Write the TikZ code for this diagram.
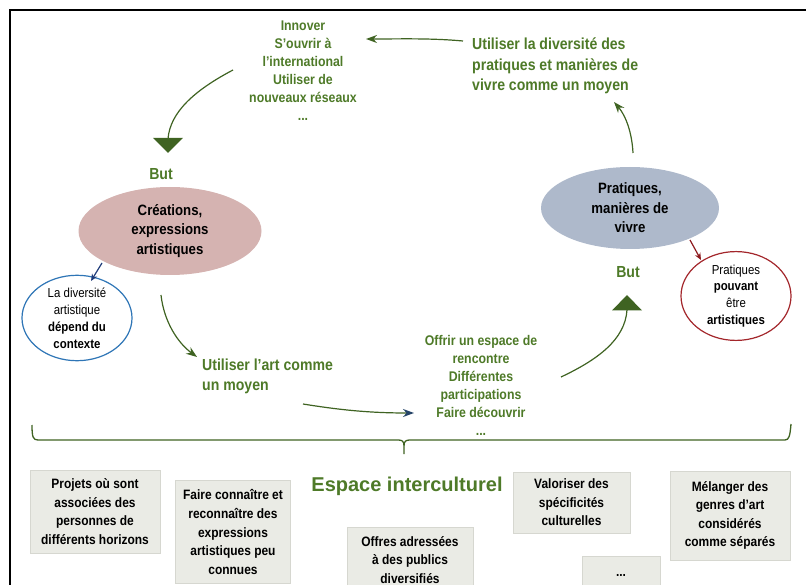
\documentclass[tikz,border=0pt]{standalone}
\usepackage{fontspec}
\setmainfont{Liberation Sans}[FakeStretch=0.88]
\newfontfamily\titlefont{Liberation Sans}
\usetikzlibrary{shapes.geometric,arrows.meta}
\definecolor{tgreen}{HTML}{4E7A28}
\definecolor{agreen}{HTML}{3F6322}
\definecolor{rosefill}{HTML}{D5B3B1}
\definecolor{bluefill}{HTML}{AEB9CB}
\definecolor{bblue}{HTML}{2E75B6}
\definecolor{bred}{HTML}{A3262B}
\definecolor{dblue}{HTML}{1F3C7A}
\definecolor{dred}{HTML}{8E1B1F}
\definecolor{boxfill}{HTML}{EAEBE5}
\definecolor{boxdraw}{HTML}{D6D7D0}
\newcommand\myfs[2]{\fontsize{#1}{#2}\selectfont}
\begin{document}
\begin{tikzpicture}[x=1pt,y=-1pt,
  gtext/.style={text=tgreen,font=\bfseries\myfs{14}{18.1},align=center,inner sep=0pt},
  gbig/.style={text=tgreen,font=\bfseries\myfs{16}{20.5},align=left,inner sep=0pt},
  gbut/.style={text=tgreen,font=\bfseries\myfs{16}{18},inner sep=0pt},
  bigell/.style={ellipse,inner sep=0pt,align=center,font=\bfseries\myfs{15}{19.5}},
  smallell/.style={ellipse,inner sep=0pt,align=center,line width=1.2pt,fill=white,font=\myfs{13}{16.9}},
  gbox/.style={rectangle,fill=boxfill,draw=boxdraw,line width=0.8pt,inner sep=0pt,align=center,font=\bfseries\myfs{13.6}{18.6}},
  garrow/.style={agreen,line width=1.2pt,-{Stealth[length=11pt,width=8pt]}},
  gline/.style={agreen,line width=1.2pt},
]
\useasboundingbox (0,0) rectangle (806,585);
\draw[line width=2pt] (10,600) -- (10,10) -- (820,10);

% text blocks
\node[gtext,anchor=north] (innov) at (303,20.5) {Innover\\S’ouvrir à\\l’international\\Utiliser de\\nouveaux réseaux\\...};
\node[gbig,anchor=north west] (utildiv) at (472,38) {Utiliser la diversité des\\pratiques et manières de\\vivre comme un moyen};
\node[gbut] (but1) at (161,174) {But};
\node[bigell,fill=rosefill,minimum width=183pt,minimum height=88pt] (creat) at (170,231) {Créations,\\expressions\\artistiques};
\node[smallell,draw=bblue,minimum width=110pt,minimum height=71pt] (diva) at (77,318) {La diversité\\artistique\\\textbf{dépend du}\\\textbf{contexte}};
\node[gbig,anchor=north west] (utilart) at (202,358.5) {Utiliser l’art comme\\un moyen};
\node[gtext,anchor=north] (offrir) at (481,335) {Offrir un espace de\\rencontre\\Différentes\\participations\\Faire découvrir\\...};
\node[bigell,fill=bluefill,minimum width=178pt,minimum height=82pt] (prat) at (630,208) {Pratiques,\\manières de\\vivre};
\node[gbut] (but2) at (628,272) {But};
\node[smallell,draw=bred,minimum width=110pt,minimum height=75pt] (pratart) at (736,296) {Pratiques\\\textbf{pouvant}\\être\\\textbf{artistiques}};

% arrows
\coordinate (a1s) at (463,41);
\coordinate (a1e) at (366,39);
\draw[garrow] (a1s) .. controls (430,38) and (400,39) .. (a1e);

\coordinate (a2s) at (233,70);
\coordinate (t1) at (168,139);
\draw[gline] (a2s) .. controls (195,90) and (170,112) .. (t1);
\fill[agreen] (153,138) -- (183,138) -- (168,153) -- cycle;

\coordinate (a3s) at (102,263);
\coordinate (a3e) at (91,281);
\draw[dblue,line width=1.2pt,-{Stealth[length=7pt,width=6pt]}] (a3s) -- (a3e);

\coordinate (a4s) at (161,295);
\coordinate (a4e) at (197,357);
\draw[garrow] (a4s) .. controls (164,322) and (178,343) .. (a4e);

\coordinate (a5s) at (303,404);
\coordinate (a5e) at (414,413);
\draw[gline,-{Stealth[length=11pt,width=8pt,color=dblue!80!agreen]}] (a5s) .. controls (340,410) and (370,413) .. (a5e);

\coordinate (a6s) at (561,377);
\coordinate (t2) at (627,310);
\draw[gline] (a6s) .. controls (597,360) and (625,340) .. (t2);
\fill[agreen] (612,310.5) -- (642,310.5) -- (627,295) -- cycle;

\coordinate (a7s) at (633,153);
\coordinate (a7e) at (614,102);
\draw[garrow] (a7s) .. controls (632,133) and (626,116) .. (a7e);

\coordinate (a8s) at (690,240);
\coordinate (a8e) at (701,260);
\draw[dred,line width=1.2pt,-{Stealth[length=7pt,width=6pt]}] (a8s) -- (a8e);

% brace
\draw[gline,line width=1.3pt] (32,425) .. controls (32,437) and (33,440) .. (38,440)
  -- (398,440) .. controls (402,440) and (404,441) .. (404,446) -- (404,454)
  (404,446) .. controls (404,441) and (406,440) .. (410,440)
  -- (785,440) .. controls (789,440) and (790,436) .. (791,424);

% title
\node[text=tgreen,font=\titlefont\bfseries\myfs{20}{24},inner sep=0pt] (espace) at (407,486) {Espace interculturel};

% boxes
\node[gbox,minimum width=130pt,minimum height=83pt] (b1) at (95,511.5) {Projets où sont\\associées des\\personnes de\\différents horizons};
\node[gbox,minimum width=115pt,minimum height=103pt] (b2) at (233,532) {Faire connaître et\\reconnaître des\\expressions\\artistiques peu\\connues};
\node[gbox,minimum width=126pt,minimum height=66pt] (b3) at (410,560) {Offres adressées\\à des publics\\diversifiés};
\node[gbox,minimum width=117pt,minimum height=61pt] (b4) at (571.5,502.5) {Valoriser des\\spécificités\\culturelles};
\node[gbox,minimum width=120pt,minimum height=89pt] (b5) at (730,515.5) {Mélanger des\\genres d’art\\considérés\\comme séparés};
\node[gbox,minimum width=78pt,minimum height=38pt] (b6) at (621,575) {...};
\end{tikzpicture}
\end{document}
